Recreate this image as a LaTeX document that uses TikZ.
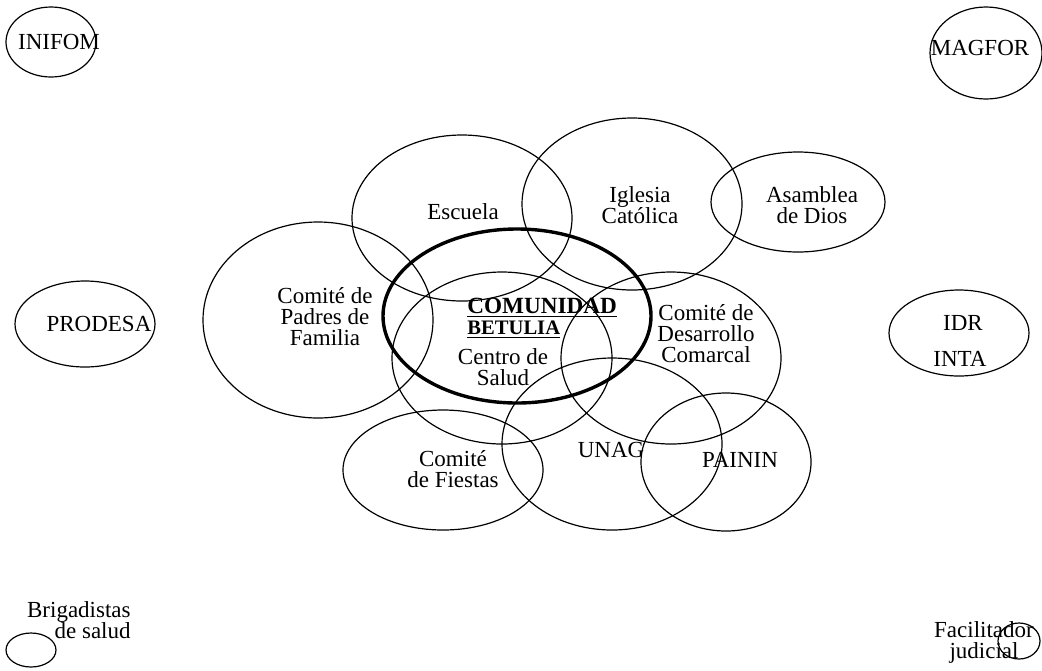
\documentclass[tikz,border=0pt]{standalone}
\usepackage{fontspec}
\setmainfont{Liberation Serif}
\usetikzlibrary{shapes.geometric}

\begin{document}
\begin{tikzpicture}[
    x=0.5pt, y=-0.5pt,
    actor/.style 2 args={
        ellipse,
        draw,
        line width=0.6pt,
        minimum width=#1pt,
        minimum height=#2pt,
        inner sep=0pt,
        outer sep=0pt
    },
    core/.style 2 args={
        actor={#1}{#2},
        line width=1.7pt
    },
    orgname/.style={
        inner sep=0pt,
        align=center,
        font=\fontsize{11.5}{10.5}\selectfont
    }
]
\useasboundingbox (0,0) rectangle (1042,670);

% Outer actors, far from the community
\node[actor={45}{35}] (inifom) at (51,42) {};
\node[actor={56}{46}] (magfor) at (986,53) {};
\node[actor={70}{43}] (prodesa) at (85,324) {};
\node[actor={70}{43}] (idr) at (959,333) {};
\node[actor={25}{17}] (brigadistas) at (31,650) {};
\node[actor={21}{18}] (facilitador) at (1019,641) {};

% Actors close to the community
\node[actor={110}{83}] (escuela) at (462,218) {};
\node[actor={110}{86}] (iglesia) at (632,204) {};
\node[actor={87}{50}] (asamblea) at (798,202) {};
\node[actor={115}{98}] (padres) at (318,320) {};
\node[actor={110}{86}] (salud) at (502,358) {};
\node[actor={110}{86}] (desarrollo) at (671,358) {};
\node[actor={110}{86}] (unag) at (612,444) {};
\node[actor={85}{69}] (painin) at (726,462) {};
\node[actor={100}{60}] (fiestas) at (443,470) {};

% The community itself
\node[core={134}{87}] (comunidad) at (517,316) {};

% Names
\node[orgname] (inifomtxt) at (59,42) {INIFOM};
\node[orgname] (magfortxt) at (980,48) {MAGFOR};
\node[orgname] (prodesatxt) at (99,324) {PRODESA};
\node[orgname] (idrtxt) at (963,323) {IDR};
\node[orgname] (intatxt) at (960,359) {INTA};
\node[orgname, align=right, anchor=east] (brigadistastxt) at (131,620) {Brigadistas\\de salud};
\node[orgname] (facilitadortxt) at (984,642) {Facilitador\\judicial};

\node[orgname] (escuelatxt) at (463,212) {Escuela};
\node[orgname] (iglesiatxt) at (640,205) {Iglesia\\Católica};
\node[orgname] (asambleatxt) at (812,205) {Asamblea\\de Dios};
\node[orgname] (padrestxt) at (325,317) {Comité de\\Padres de\\Familia};
\node[orgname] (saludtxt) at (503,367) {Centro de\\Salud};
\node[orgname] (desarrollotxt) at (706,334) {Comité de\\Desarrollo\\Comarcal};
\node[orgname] (unagtxt) at (611,450) {UNAG};
\node[orgname] (painintxt) at (740,460) {PAININ};
\node[orgname] (fiestastxt) at (453,469) {Comité\\de Fiestas};

\node[orgname, align=left, anchor=west] (comunidadtxt) at (467,318)
    {{\fontsize{11.6}{10.5}\selectfont\bfseries\underline{COMUNIDAD}}\\
     {\fontsize{10.3}{10.5}\selectfont\bfseries\underline{BETULIA}}};

\end{tikzpicture}
\end{document}
